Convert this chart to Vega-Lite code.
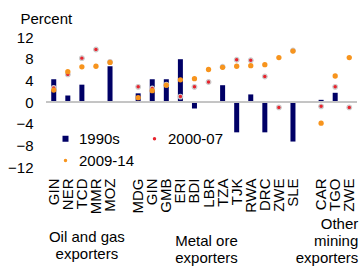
{
  "$schema": "https://vega.github.io/schema/vega-lite/v6.json",
  "width": 311,
  "height": 130,
  "autosize": {"type": "none"},
  "padding": {"left": 46, "top": 37, "right": 4, "bottom": 102},
  "config": {
    "font": "Liberation Sans",
    "view": {"stroke": null},
    "axis": {"labelColor": "#000", "titleColor": "#000", "labelFontSize": 15, "titleFontSize": 15, "titleFontWeight": "normal"},
    "axisY": {"labelOverlap": false, "labelFlush": false, "grid": false, "domain": false, "ticks": false, "labelPadding": 13},
    "legend": {"labelFontSize": 15, "labelColor": "#000"}
  },
  "datasets": {
    "vals": [
      {"key": "GIN", "series": "1990s", "value": 4.2},
      {"key": "NER", "series": "1990s", "value": 1.2},
      {"key": "TCD", "series": "1990s", "value": 3.2},
      {"key": "MOZ", "series": "1990s", "value": 6.6},
      {"key": "MDG", "series": "1990s", "value": 1.6},
      {"key": "GIN2", "series": "1990s", "value": 4.2},
      {"key": "GMB", "series": "1990s", "value": 4.2},
      {"key": "ERI", "series": "1990s", "value": 7.9},
      {"key": "BDI", "series": "1990s", "value": -1.2},
      {"key": "TZA", "series": "1990s", "value": 3.1},
      {"key": "TJK", "series": "1990s", "value": -5.6},
      {"key": "RWA", "series": "1990s", "value": 1.4},
      {"key": "DRC", "series": "1990s", "value": -5.6},
      {"key": "SLE", "series": "1990s", "value": -7.3},
      {"key": "CAR", "series": "1990s", "value": 0.4},
      {"key": "TGO", "series": "1990s", "value": 1.7},
      {"key": "GIN", "series": "2000-07", "value": 2.6},
      {"key": "NER", "series": "2000-07", "value": 5.1},
      {"key": "TCD", "series": "2000-07", "value": 8.1},
      {"key": "MMR", "series": "2000-07", "value": 9.7},
      {"key": "MOZ", "series": "2000-07", "value": 7.4},
      {"key": "MDG", "series": "2000-07", "value": 2.8},
      {"key": "GIN2", "series": "2000-07", "value": 2.5},
      {"key": "GMB", "series": "2000-07", "value": 3.2},
      {"key": "ERI", "series": "2000-07", "value": 1.0},
      {"key": "BDI", "series": "2000-07", "value": 2.8},
      {"key": "LBR", "series": "2000-07", "value": 3.7},
      {"key": "TZA", "series": "2000-07", "value": 6.5},
      {"key": "TJK", "series": "2000-07", "value": 7.8},
      {"key": "RWA", "series": "2000-07", "value": 7.7},
      {"key": "DRC", "series": "2000-07", "value": 4.7},
      {"key": "ZWE", "series": "2000-07", "value": -1.0},
      {"key": "SLE", "series": "2000-07", "value": 9.5},
      {"key": "CAR", "series": "2000-07", "value": -0.8},
      {"key": "TGO", "series": "2000-07", "value": 2.8},
      {"key": "ZWE2", "series": "2000-07", "value": -1.0},
      {"key": "GIN", "series": "2009-14", "value": 2.2},
      {"key": "NER", "series": "2009-14", "value": 5.6},
      {"key": "TCD", "series": "2009-14", "value": 6.5},
      {"key": "MMR", "series": "2009-14", "value": 6.6},
      {"key": "MOZ", "series": "2009-14", "value": 7.3},
      {"key": "MDG", "series": "2009-14", "value": 0.8},
      {"key": "GIN2", "series": "2009-14", "value": 2.1},
      {"key": "GMB", "series": "2009-14", "value": 3.1},
      {"key": "ERI", "series": "2009-14", "value": 4.1},
      {"key": "BDI", "series": "2009-14", "value": 4.3},
      {"key": "LBR", "series": "2009-14", "value": 6.0},
      {"key": "TZA", "series": "2009-14", "value": 6.4},
      {"key": "TJK", "series": "2009-14", "value": 6.6},
      {"key": "RWA", "series": "2009-14", "value": 6.7},
      {"key": "DRC", "series": "2009-14", "value": 6.9},
      {"key": "ZWE", "series": "2009-14", "value": 8.2},
      {"key": "SLE", "series": "2009-14", "value": 9.4},
      {"key": "CAR", "series": "2009-14", "value": -3.9},
      {"key": "TGO", "series": "2009-14", "value": 4.8},
      {"key": "ZWE2", "series": "2009-14", "value": 8.2}
    ]
  },
  "data": {"name": "vals"},
  "encoding": {
    "x": {
      "field": "key", "type": "nominal",
      "scale": {
        "domain": ["GIN","NER","TCD","MMR","MOZ"," ","MDG","GIN2","GMB","ERI","BDI","LBR","TZA","TJK","RWA","DRC","ZWE","SLE","  ","CAR","TGO","ZWE2"],
        "paddingInner": 0, "paddingOuter": 0.05
      },
      "axis": {
        "title": null, "domain": false, "ticks": false, "labelAngle": -90,
        "labelAlign": "right", "labelBaseline": "middle", "labelPadding": 11,
        "labelOverlap": false,
        "labelExpr": "substring(datum.label,0,3)"
      }
    }
  },
  "layer": [
    {
      "transform": [{"filter": "datum.series === '1990s'"}],
      "mark": {"type": "bar", "size": 5},
      "encoding": {
        "y": {
          "field": "value", "type": "quantitative",
          "scale": {"domain": [-12, 12], "nice": false, "zero": false},
          "axis": {
            "values": [-12, -8, -4, 0, 4, 8, 12], "labelOverlap": false, "title": "Percent", "titleAngle": 0, "titleAlign": "left",
            "titleBaseline": "alphabetic", "titleX": -26, "titleY": -14
          }
        },
        "color": {
          "field": "series", "type": "nominal",
          "scale": {"domain": ["1990s", "2000-07", "2009-14"], "range": ["#000066", "#e8242e", "#f7941d"]},
          "legend": {
            "title": null, "orient": "none", "direction": "horizontal", "legendX": 12, "legendY": 94, "columns": 2,
            "columnPadding": 12, "rowPadding": 6, "labelOffset": 6, "symbolSize": 36,
            "symbolStrokeWidth": 0,
            "encode": {
              "symbols": {
                "update": {
                  "shape": {"signal": "datum.value === '1990s' ? 'square' : 'circle'"},
                  "size": {"signal": "datum.value === '1990s' ? 36 : 12"}
                }
              }
            }
          }
        }
      }
    },
    {
      "mark": {"type": "rule", "color": "#c4c4c4", "strokeWidth": 1},
      "encoding": {"y": {"datum": 0, "type": "quantitative", "axis": {"values": [-12, -8, -4, 0, 4, 8, 12], "labelOverlap": false}}, "x": null}
    },
    {
      "transform": [{"filter": "datum.series === '2000-07'"}],
      "mark": {"type": "point", "filled": true, "size": 22, "strokeWidth": 1.2, "opacity": 1},
      "encoding": {
        "y": {"field": "value", "type": "quantitative", "axis": {"values": [-12, -8, -4, 0, 4, 8, 12], "labelOverlap": false}},
        "color": {"field": "series", "type": "nominal"},
        "stroke": {"value": "#cccccc"}
      }
    },
    {
      "transform": [{"filter": "datum.series === '2009-14'"}],
      "mark": {"type": "point", "filled": true, "size": 28, "opacity": 1, "strokeWidth": 0},
      "encoding": {
        "y": {"field": "value", "type": "quantitative", "axis": {"values": [-12, -8, -4, 0, 4, 8, 12], "labelOverlap": false}},
        "color": {"field": "series", "type": "nominal"}
      }
    },
    {
      "data": {"values": [{"key": "TCD", "label": ["Oil and gas", "exporters"]}]},
      "mark": {"type": "text", "fontSize": 15, "color": "#000", "align": "center", "baseline": "alphabetic", "dx": 5, "dy": 75, "lineHeight": 17},
      "encoding": {"y": {"datum": -12, "type": "quantitative", "axis": {"values": [-12, -8, -4, 0, 4, 8, 12], "labelOverlap": false}}, "text": {"field": "label"}}
    },
    {
      "data": {"values": [{"key": "LBR", "label": ["Metal ore", "exporters"]}]},
      "mark": {"type": "text", "fontSize": 15, "color": "#000", "align": "center", "baseline": "alphabetic", "dx": -2, "dy": 79, "lineHeight": 17},
      "encoding": {"y": {"datum": -12, "type": "quantitative", "axis": {"values": [-12, -8, -4, 0, 4, 8, 12], "labelOverlap": false}}, "text": {"field": "label"}}
    },
    {
      "data": {"values": [{"key": "ZWE2", "label": ["Other", "mining", "exporters"]}]},
      "mark": {"type": "text", "fontSize": 15, "color": "#000", "align": "right", "baseline": "alphabetic", "dx": 9, "dy": 62, "lineHeight": 17},
      "encoding": {"y": {"datum": -12, "type": "quantitative", "axis": {"values": [-12, -8, -4, 0, 4, 8, 12], "labelOverlap": false}}, "text": {"field": "label"}}
    }
  ]
}
